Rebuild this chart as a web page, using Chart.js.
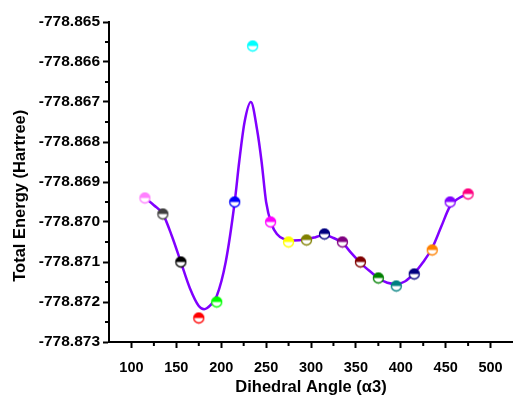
<!DOCTYPE html>
<html lang="en">

<head>
    <meta charset="UTF-8">
    <title>Total Energy vs Dihedral Angle</title>
    <style>
        body { margin: 0; background: #fff; }
        .box { width: 513px; height: 397px; position: relative; }
    </style>
</head>

<body>
    <div class="box">
        <canvas id="energia"></canvas>
    </div>

    <script src="https://cdn.jsdelivr.net/npm/chart.js@4.4.0/dist/chart.umd.min.js"></script>
    <script>

    // pontos calculados (angulo, energia) e cor de cada marcador
    var angulos = [115, 135, 155, 175, 195, 215, 235, 255, 275, 295, 315, 335, 355, 375, 395, 415, 435, 455, 475];
    var energias = [-778.86940, -778.86980, -778.87100, -778.87240, -778.87200, -778.86950, -778.86560, -778.87000,
        -778.87050, -778.87045, -778.87030, -778.87050, -778.87100, -778.87140, -778.87160, -778.87130,
        -778.87070, -778.86950, -778.86930];
    var cores = ['#FF80FF', '#404040', '#000000', '#FF0000', '#00FF00', '#0000FF', '#00FFFF', '#FF00FF', '#FFFF00',
        '#808000', '#000080', '#800080', '#800000', '#008000', '#008080', '#000080', '#FF8000', '#8000FF', '#FF0080'];

    // curva ajustada
    var curvaX = [115, 125, 135, 145, 155, 165, 175, 181, 188, 195, 205, 215, 220, 226, 233, 240, 245, 250, 256, 262,
        270, 280, 295, 305, 315, 325, 335, 345, 355, 365, 375, 385, 395, 405, 415, 425, 435, 445, 455, 465, 475];
    var curvaY = [-778.86940, -778.86958, -778.86980, -778.87035, -778.87100, -778.87165, -778.87210, -778.87218,
        -778.87208, -778.87185, -778.87100, -778.86950, -778.86850, -778.86750, -778.86700, -778.86770, -778.86850,
        -778.86950, -778.87005, -778.87030, -778.87043, -778.87046, -778.87043, -778.87038, -778.87032, -778.87040,
        -778.87052, -778.87078, -778.87102, -778.87122, -778.87140, -778.87152, -778.87155, -778.87148, -778.87128,
        -778.87100, -778.87065, -778.87012, -778.86960, -778.86940, -778.86930];

    var xMin = 75, xMax = 525, xStep = 25;
    var yMin = -778.873, yMax = -778.865, yStep = 0.0005;

    var fonte = '"Liberation Sans", Arial, sans-serif';

    // marcador meio cheio (metade de cima colorida)
    function meioCirculo(cor) {
        var c = document.createElement('canvas');
        c.width = 13; c.height = 13;
        var g = c.getContext('2d');
        g.beginPath(); g.arc(6.5, 6.5, 5, 0, Math.PI * 2); g.fillStyle = '#fff'; g.fill();
        g.beginPath(); g.arc(6.5, 6.5, 5, Math.PI, 0); g.closePath(); g.fillStyle = cor; g.fill();
        g.beginPath(); g.arc(6.5, 6.5, 5, 0, Math.PI * 2); g.lineWidth = 1.3; g.strokeStyle = cor; g.stroke();
        return c;
    }

    var marcadores = cores.map(meioCirculo);

    function ehMaiorX(v) { return Math.round(v) % 50 === 0; }
    function ehMaiorY(v) { return Math.round(v * 2000) % 2 === 0; }

    // tracinhos menores dos eixos
    var ticksMenores = {
        id: 'ticksMenores',
        afterDraw: function (chart) {
            var ctx = chart.ctx;
            var x = chart.scales.x, y = chart.scales.y;
            var area = chart.chartArea;
            ctx.save();
            ctx.strokeStyle = '#000';
            ctx.lineWidth = 2;
            x.ticks.forEach(function (t) {
                if (ehMaiorX(t.value) || t.value <= xMin || t.value >= xMax) return;
                var px = x.getPixelForValue(t.value);
                ctx.beginPath(); ctx.moveTo(px, area.bottom); ctx.lineTo(px, area.bottom + 4); ctx.stroke();
            });
            y.ticks.forEach(function (t) {
                if (ehMaiorY(t.value)) return;
                var py = y.getPixelForValue(t.value);
                ctx.beginPath(); ctx.moveTo(area.left, py); ctx.lineTo(area.left - 4, py); ctx.stroke();
            });
            ctx.restore();
        }
    };

    var pontos = angulos.map(function (a, i) { return { x: a, y: energias[i] }; });
    var curva = curvaX.map(function (a, i) { return { x: a, y: curvaY[i] }; });

    var grafico = new Chart(document.getElementById('energia').getContext('2d'), {
        type: 'scatter',
        data: {
            datasets: [{
                label: 'calculado',
                data: pontos,
                showLine: false,
                pointStyle: marcadores,
                pointRadius: 6
            }, {
                label: 'ajuste',
                data: curva,
                showLine: true,
                borderColor: '#8000FF',
                borderWidth: 2.5,
                pointRadius: 0,
                cubicInterpolationMode: 'monotone'
            }]
        },
        options: {
            responsive: true,
            maintainAspectRatio: false,
            animation: false,
            layout: { autoPadding: false, padding: { top: 22, right: 0, left: 0, bottom: 0 } },
            plugins: {
                legend: { display: false },
                tooltip: { enabled: false }
            },
            scales: {
                x: {
                    type: 'linear',
                    min: xMin,
                    max: xMax,
                    border: { color: '#000', width: 2 },
                    grid: {
                        drawOnChartArea: false,
                        tickLength: 6,
                        tickWidth: 2,
                        tickColor: function (c) { return ehMaiorX(c.tick.value) ? '#000' : 'rgba(0,0,0,0)'; }
                    },
                    ticks: {
                        stepSize: xStep,
                        autoSkip: false,
                        maxRotation: 0,
                        padding: 0,
                        color: '#000',
                        // lineHeight alto so para descer os numeros sem criar folga a direita
                        font: { family: fonte, size: 14.5, weight: 'bold', lineHeight: 2.7 },
                        callback: function (v) { return ehMaiorX(v) ? String(Math.round(v)) : ''; }
                    },
                    title: {
                        display: true,
                        text: 'Dihedral Angle (\u03B13)',
                        color: '#000',
                        font: { family: fonte, size: 16.5, weight: 'bold' },
                        padding: { top: 0, bottom: 0 }
                    },
                    afterFit: function (s) { s.height = 55; }
                },
                y: {
                    type: 'linear',
                    min: yMin,
                    max: yMax,
                    border: { color: '#000', width: 2 },
                    grid: {
                        drawOnChartArea: false,
                        tickLength: 6,
                        tickWidth: 2,
                        tickColor: function (c) { return ehMaiorY(c.tick.value) ? '#000' : 'rgba(0,0,0,0)'; }
                    },
                    ticks: {
                        stepSize: yStep,
                        autoSkip: false,
                        padding: 3,
                        color: '#000',
                        font: { family: fonte, size: 15.5, weight: 'bold' },
                        callback: function (v) { return ehMaiorY(v) ? v.toFixed(3) : ''; }
                    },
                    title: {
                        display: true,
                        text: 'Total Energy (Hartree)      ',
                        color: '#000',
                        font: { family: fonte, size: 16.5, weight: 'bold' },
                        padding: { top: 11, bottom: 0 }
                    },
                    afterFit: function (s) { s.width = 109; }
                }
            }
        },
        plugins: [ticksMenores]
    });

    </script>
</body>

</html>
